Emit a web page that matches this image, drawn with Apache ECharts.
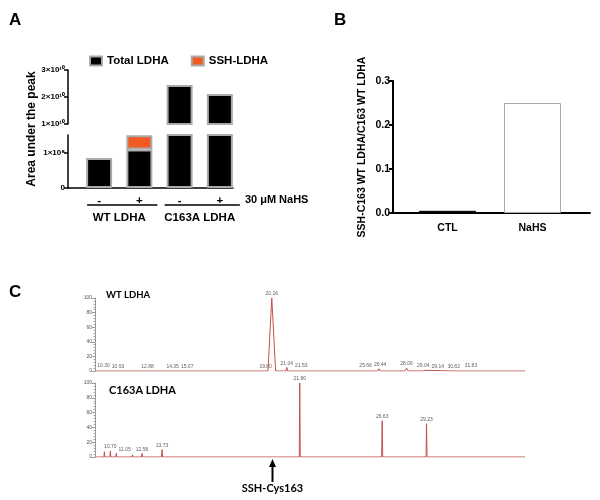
<!DOCTYPE html>
<html>
<head>
<meta charset="utf-8">
<script src="https://cdn.jsdelivr.net/npm/echarts@6/dist/echarts.min.js"></script>
<style>html,body{margin:0;padding:0;background:#fff}#c{width:600px;height:500px}</style>
</head>
<body>
<div id="c"></div>
<script>
// ---------- Panel A data ----------
const aCategories = ['-', '+', '-', '+'];
const aGroups = ['WT LDHA', 'C163A LDHA'];
const aTotal = [0.85e8, 1.09e8, 2.44e10, 2.11e10];
const aSSH = [0, 0.40e8, 0, 0];
const aUpperRange = [1e10, 3e10];
const aLowerRange = [0, 1.5e8];
const aTreatment = '30 μM NaHS';

// ---------- Panel B data ----------
const bCategories = ['CTL', 'NaHS'];
const bValues = [0.005, 0.25];
const bYName = 'SSH-C163 WT LDHA/C163 WT LDHA';

// ---------- Panel C data (retention time, relative abundance %) ----------
const cTimeRange = [9.8, 35.0];
const wtPeakTimes   = [10.30, 10.93, 12.88, 14.35, 15.07, 19.80, 20.16, 21.04, 21.53, 25.66, 26.44, 28.06, 29.04, 29.14, 30.82, 31.83];
const wtPeakHeights = [1.5, 1, 1, 1, 1, 1, 100, 5, 2, 2, 3, 4, 2, 1, 1, 2];
const wtPeakWidths  = [0.08, 0.08, 0.08, 0.08, 0.08, 0.08, 0.45, 0.1, 0.1, 0.1, 0.15, 0.2, 0.08, 0.08, 0.08, 0.1];
const wtPeakLabels  = ['10.30', '10.93', '12.88', '14.35', '15.07', '19.80', '20.16', '21.04', '21.53', '25.66', '26.44', '28.06', '29.04', '29.14', '30.82', '31.83'];

const mutPeakTimes   = [10.35, 10.70, 11.05, 12.00, 12.56, 13.73, 21.80, 26.63, 29.23];
const mutPeakHeights = [7, 8, 5, 3, 5, 10, 100, 49, 45];
const mutPeakWidths  = [0.06, 0.06, 0.06, 0.06, 0.06, 0.06, 0.06, 0.06, 0.06];
const mutPeakLabels  = ['', '10.70', '11.05', '', '12.56', '13.73', '21.80', '26.63', '29.23'];
const arrowTime = 20.16;
const arrowText = 'SSH-Cys163';

// ---------- build helpers ----------
function trace(times, heights, widths) {
  const pts = [[cTimeRange[0], 0]];
  times.forEach((t, i) => {
    pts.push([t - widths[i] / 2, 0], [t, heights[i]], [t + widths[i] / 2, 0]);
  });
  pts.push([cTimeRange[1], 0]);
  return pts;
}
function labelPts(times, heights, labels) {
  const out = [];
  times.forEach((t, i) => { if (labels[i]) out.push({ value: [t, heights[i]], name: labels[i] }); });
  return out;
}
function sci(v) {
  if (v === 0) return '0';
  const e = Math.floor(Math.log10(v) + 1e-9);
  const m = Math.round(v / Math.pow(10, e));
  const sup = { '0': '⁰', '1': '¹', '2': '²', '3': '³', '4': '⁴', '5': '⁵', '6': '⁶', '7': '⁷', '8': '⁸', '9': '⁹' };
  return m + '×10' + String(e).split('').map(c => sup[c]).join('');
}
// push a label right while it overlaps an already placed label of the same series
function makeShift() {
  let placed = [];
  return function (p) {
    const r = p.labelRect;
    if (p.dataIndex === 0) placed = [];
    let left = r.x;
    let moved = true;
    while (moved) {
      moved = false;
      for (const q of placed) {
        const vOverlap = r.y < q.y + q.h && r.y + r.height > q.y;
        const hOverlap = left < q.x + q.w + 2 && left + r.width > q.x;
        if (vOverlap && hOverlap) { left = q.x + q.w + 2; moved = true; }
      }
    }
    placed.push({ x: left, y: r.y, w: r.width, h: r.height });
    return { x: left, y: r.y, align: 'left', verticalAlign: 'top' };
  };
}

const F = 'Liberation Sans, Arial, sans-serif';
const F2 = 'Lato, Open Sans, sans-serif';
const barStyle = { color: '#000', borderColor: '#aaa', borderWidth: 2 };
const red = '#c0504d';

const hiddenCat = (grid, data) => ({ type: 'category', gridIndex: grid, data: data, show: false });
const cYAxis = (grid) => ({
  type: 'value', gridIndex: grid, min: 0, max: 100, interval: 20,
  axisLine: { show: true, lineStyle: { color: '#999', width: 1 } },
  axisTick: { show: true, length: 3, lineStyle: { color: '#999' } },
  minorTick: { show: true, splitNumber: 5, length: 1.5, lineStyle: { color: '#aaa' } },
  axisLabel: { fontSize: 5, color: '#555', margin: 3, fontFamily: 'Liberation Sans' },
  splitLine: { show: false }
});
const peakLabel = {
  show: true, position: 'top', distance: 1, fontSize: 5, color: '#333',
  formatter: p => p.name, fontFamily: 'Liberation Sans'
};

const chart = echarts.init(document.getElementById('c'), null, { renderer: 'canvas' });

const option = {
  animation: false,
  backgroundColor: '#fff',
  textStyle: { fontFamily: F },
  title: [
    { text: 'A', left: 4, top: 7, textStyle: { fontSize: 17, fontWeight: 'bold', color: '#000', fontFamily: F } },
    { text: 'B', left: 329, top: 7, textStyle: { fontSize: 17, fontWeight: 'bold', color: '#000', fontFamily: F } },
    { text: 'C', left: 4, top: 279, textStyle: { fontSize: 17, fontWeight: 'bold', color: '#000', fontFamily: F } },
    { text: aGroups[0], left: 101, top: 285, textStyle: { fontSize: 9.5, fontWeight: 'bold', color: '#000', fontFamily: F2 } },
    { text: aGroups[1], left: 104, top: 380, textStyle: { fontSize: 11, fontWeight: 'bold', color: '#000', fontFamily: F2 } }
  ],
  legend: {
    data: ['Total LDHA', 'SSH-LDHA'],
    left: 84, top: 50, itemWidth: 12, itemHeight: 9, itemGap: 22,
    textStyle: { fontSize: 11.5, fontWeight: 'bold', color: '#000', fontFamily: F },
    icon: 'rect'
  },
  grid: [
    { left: 79, width: 161, top: 70, height: 54 },    // 0 A upper
    { left: 79, width: 161, top: 135, height: 53 },   // 1 A lower
    { left: 68, width: 165, top: 70, height: 118 },   // 2 A frame
    { left: 405, width: 170, top: 81, height: 132 },  // 3 B data
    { left: 393, width: 197, top: 81, height: 132 },  // 4 B frame
    { left: 95, width: 430, top: 298, height: 73 },   // 5 C top
    { left: 95, width: 430, top: 383, height: 74 }    // 6 C bottom
  ],
  xAxis: [
    hiddenCat(0, aCategories),
    { type: 'category', gridIndex: 1, data: aCategories, axisLine: { show: false }, axisTick: { show: false },
      axisLabel: { interval: 0, fontSize: 11.5, fontWeight: 'bold', color: '#000', margin: 7 } },
    { type: 'category', gridIndex: 1, data: aGroups, position: 'bottom', offset: 17, axisLine: { show: false }, axisTick: { show: false },
      axisLabel: { interval: 0, fontSize: 11.5, fontWeight: 'bold', color: '#000', margin: 7, hideOverlap: false } },
    { type: 'value', gridIndex: 2, min: 0, max: 1, axisLine: { show: true, lineStyle: { color: '#000', width: 1.5 } },
      axisTick: { show: false }, axisLabel: { show: false }, splitLine: { show: false } },
    { type: 'category', gridIndex: 3, data: bCategories, axisLine: { show: false }, axisTick: { show: false },
      axisLabel: { interval: 0, fontSize: 10.5, fontWeight: 'bold', color: '#000', margin: 10 } },
    { type: 'value', gridIndex: 4, min: 0, max: 1, axisLine: { show: true, lineStyle: { color: '#000', width: 2 } },
      axisTick: { show: false }, axisLabel: { show: false }, splitLine: { show: false } },
    { type: 'value', gridIndex: 5, min: cTimeRange[0], max: cTimeRange[1], show: false },
    { type: 'value', gridIndex: 6, min: cTimeRange[0], max: cTimeRange[1], show: false }
  ],
  yAxis: [
    { type: 'value', gridIndex: 0, min: aUpperRange[0], max: aUpperRange[1], interval: 1e10, offset: 11,
      axisLine: { show: true, lineStyle: { color: '#000', width: 1.5 } },
      axisTick: { show: true, length: 4, lineStyle: { color: '#000', width: 1.5 } },
      axisLabel: { formatter: sci, fontSize: 8, fontWeight: 'bold', color: '#000', margin: 3 },
      splitLine: { show: false } },
    { type: 'value', gridIndex: 1, min: aLowerRange[0], max: aLowerRange[1], interval: 1e8, offset: 11,
      axisLine: { show: true, lineStyle: { color: '#000', width: 1.5 } },
      axisTick: { show: true, length: 4, lineStyle: { color: '#000', width: 1.5 } },
      axisLabel: { formatter: sci, fontSize: 8, fontWeight: 'bold', color: '#000', margin: 3, showMaxLabel: false },
      splitLine: { show: false } },
    { type: 'value', gridIndex: 2, min: 0, max: 1, name: 'Area under the peak', nameLocation: 'middle', nameGap: 30,
      nameTextStyle: { fontSize: 12, fontWeight: 'bold', color: '#000' },
      axisLine: { show: false }, axisTick: { show: false }, axisLabel: { show: false }, splitLine: { show: false } },
    { type: 'value', gridIndex: 3, min: 0, max: 0.3, interval: 0.1, offset: 12,
      name: bYName, nameLocation: 'middle', nameGap: 25,
      nameTextStyle: { fontSize: 10.5, fontWeight: 'bold', color: '#000' },
      axisLine: { show: true, lineStyle: { color: '#000', width: 2 } },
      axisTick: { show: true, length: 4, lineStyle: { color: '#000', width: 2 } },
      axisLabel: { formatter: v => v.toFixed(1), fontSize: 10.5, fontWeight: 'bold', color: '#000', margin: 3 },
      splitLine: { show: false } },
    { type: 'value', gridIndex: 4, min: 0, max: 1, show: false },
    cYAxis(5),
    cYAxis(6)
  ],
  series: [
    { name: 'Total LDHA', type: 'bar', xAxisIndex: 0, yAxisIndex: 0, barWidth: 26, clip: true,
      data: aTotal.map(v => v > aUpperRange[0] ? v : '-'), itemStyle: barStyle },
    { name: 'Total LDHA', type: 'bar', xAxisIndex: 1, yAxisIndex: 1, barWidth: 26, stack: 'a', clip: true,
      data: aTotal, itemStyle: barStyle },
    { name: 'SSH-LDHA', type: 'bar', xAxisIndex: 1, yAxisIndex: 1, barWidth: 26, stack: 'a', clip: true,
      data: aSSH.map(v => v > 0 ? v : '-'), itemStyle: { color: '#f05a23', borderColor: '#aaa', borderWidth: 2 } },
    { name: 'ratio', type: 'bar', xAxisIndex: 4, yAxisIndex: 3, barWidth: 57,
      data: bValues.map((v, i) => ({ value: v, itemStyle: i === 0 ? { color: '#000', borderColor: '#000', borderWidth: 1 } : { color: '#fff', borderColor: '#aaa', borderWidth: 1 } })) },
    { name: 'WT trace', type: 'line', xAxisIndex: 6, yAxisIndex: 5, showSymbol: false, symbol: 'none',
      data: trace(wtPeakTimes, wtPeakHeights, wtPeakWidths), lineStyle: { color: red, width: 1 } },
    { name: 'C163A trace', type: 'line', xAxisIndex: 7, yAxisIndex: 6, showSymbol: false, symbol: 'none',
      data: trace(mutPeakTimes, mutPeakHeights, mutPeakWidths), lineStyle: { color: red, width: 1 } },
    { name: 'WT labels', type: 'scatter', xAxisIndex: 6, yAxisIndex: 5, symbolSize: 1, itemStyle: { color: 'rgba(0,0,0,0)' },
      data: labelPts(wtPeakTimes, wtPeakHeights, wtPeakLabels), label: peakLabel,
      labelLayout: makeShift() },
    { name: 'C163A labels', type: 'scatter', xAxisIndex: 7, yAxisIndex: 6, symbolSize: 1, itemStyle: { color: 'rgba(0,0,0,0)' },
      data: labelPts(mutPeakTimes, mutPeakHeights, mutPeakLabels), label: peakLabel,
      labelLayout: makeShift() }
  ]
};
chart.setOption(option);

// ---------- annotations positioned from the axes ----------
const c0 = chart.convertToPixel({ xAxisIndex: 1 }, 0);
const c1 = chart.convertToPixel({ xAxisIndex: 1 }, 1);
const c2 = chart.convertToPixel({ xAxisIndex: 1 }, 2);
const c3 = chart.convertToPixel({ xAxisIndex: 1 }, 3);
const base = chart.convertToPixel({ xAxisIndex: 3, yAxisIndex: 2 }, [0, 0]);
const lineY = base[1] + 17;
const arrowPt = chart.convertToPixel({ xAxisIndex: 7, yAxisIndex: 6 }, [arrowTime, 0]);
const ax = Math.round(arrowPt[0]) + 0.5;
const ay = arrowPt[1];

chart.setOption({
  graphic: [
    { type: 'line', shape: { x1: c0 - 12, y1: lineY, x2: c1 + 18, y2: lineY }, style: { stroke: '#000', lineWidth: 1.5 } },
    { type: 'line', shape: { x1: c2 - 15, y1: lineY, x2: c3 + 20, y2: lineY }, style: { stroke: '#000', lineWidth: 1.5 } },
    { type: 'text', left: c3 + 25, top: base[1] + 6, style: { text: aTreatment, font: 'bold 11px Liberation Sans, Arial, sans-serif', fill: '#000' } },
    { type: 'line', shape: { x1: ax, y1: ay + 8, x2: ax, y2: ay + 25 }, style: { stroke: '#000', lineWidth: 2 } },
    { type: 'polygon', shape: { points: [[ax, ay + 2], [ax - 3.5, ay + 10], [ax + 3.5, ay + 10]] }, style: { fill: '#000' } },
    { type: 'text', x: ax, y: ay + 26, style: { text: arrowText, textAlign: 'center', textVerticalAlign: 'top', font: 'bold 11px Lato, Open Sans, sans-serif', fill: '#000' } }
  ]
});
</script>
</body>
</html>
